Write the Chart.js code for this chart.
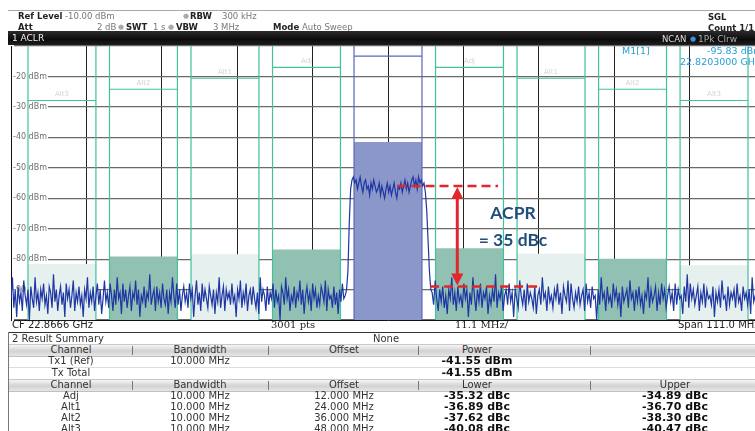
<!DOCTYPE html>
<html><head><meta charset="utf-8">
<script src="https://cdn.jsdelivr.net/npm/chart.js@4.4.1/dist/chart.umd.min.js"></script>
<style>
body{margin:0;width:755px;height:431px;overflow:hidden;background:#fff;position:relative;font-family:"DejaVu Sans",Verdana,sans-serif;color:#222;}
.t{position:absolute;white-space:nowrap;line-height:12px;height:12px;font-size:9px;}
.h{font-size:8.5px;}
.c{transform:translateX(-50%);}
.b{font-weight:bold;}
.g{color:#777;}
.hl{position:absolute;height:1px;}
.vl{position:absolute;width:1px;}
.hdr{position:absolute;left:9px;width:760px;height:11px;background:linear-gradient(#f6f6f6,#d2d2d2 55%,#e6e6e6);border-top:1px solid #c8c8c8;border-bottom:1px solid #c0c0c0;}
.sep{position:absolute;width:1px;height:9px;background:#777;}
.tb{font-size:10px;color:#333;}
.val{font-size:11px;font-weight:bold;color:#111;}
.mk{color:#2b9fd6;font-size:9.5px;}
</style></head><body>
<canvas id="c" width="780" height="431" style="position:absolute;left:0;top:0;width:780px;height:431px"></canvas>

<!-- header -->
<div class="hl" style="left:8px;top:10px;width:760px;background:#aaa"></div>
<div class="t h b" style="left:18px;top:10px">Ref Level</div>
<div class="t h g" style="left:65px;top:10px">-10.00 dBm</div>
<div class="t" style="left:183px;top:10px;color:#aaa;font-size:7px">●</div>
<div class="t h b" style="left:190px;top:10px">RBW</div>
<div class="t h g" style="left:222px;top:10px">300 kHz</div>
<div class="t h b" style="left:708px;top:11px">SGL</div>
<div class="t h b" style="left:18px;top:21px">Att</div>
<div class="t h g" style="left:97px;top:21px">2 dB</div>
<div class="t" style="left:118px;top:21px;color:#aaa;font-size:7px">●</div>
<div class="t h b" style="left:126px;top:21px">SWT</div>
<div class="t h g" style="left:153px;top:21px">1 s</div>
<div class="t" style="left:168px;top:21px;color:#aaa;font-size:7px">●</div>
<div class="t h b" style="left:176px;top:21px">VBW</div>
<div class="t h g" style="left:213px;top:21px">3 MHz</div>
<div class="t h b" style="left:273px;top:21px">Mode</div>
<div class="t h g" style="left:302px;top:21px">Auto Sweep</div>
<div class="t h b" style="left:708px;top:22px">Count 1/1</div>
<div style="position:absolute;left:8px;top:31px;width:770px;height:14px;background:linear-gradient(#2b2b2b,#0c0c0c 60%,#1e1e1e)"></div>
<div class="t" style="left:12px;top:32px;color:#eee">1 ACLR</div>
<div class="t h" style="left:662px;top:33px;color:#ddd">NCAN</div>
<div class="t" style="left:690px;top:33px;color:#3b8fe0;font-size:7px">●</div>
<div class="t" style="left:698px;top:33px;color:#aaa">1Pk Clrw</div>

<!-- marker -->
<div class="t mk" style="left:622px;top:45px">M1[1]</div>
<div class="t mk" style="left:707px;top:45px">-95.83 dBm</div>
<div class="t mk" style="left:680px;top:56px">22.8203000 GHz</div>

<!-- ACPR annotation text -->
<div class="t c" style="left:513px;top:202px;height:22px;line-height:22px;font:bold 17.5px Lato,sans-serif;color:#1f4d7c">ACPR</div>
<div class="t c" style="left:513px;top:229px;height:22px;line-height:22px;font:bold 17.5px Lato,sans-serif;color:#1f4d7c">= 35 dBc</div>

<!-- bottom bar -->
<div class="t" style="left:12px;top:319px;font-size:10px">CF 22.8666 GHz</div>
<div class="t" style="left:271px;top:319px;font-size:10px;font-family:'DejaVu Serif',serif">3001 pts</div>
<div class="t" style="left:455px;top:319px;font-size:10px;font-family:'DejaVu Serif',serif">11.1 MHz/</div>
<div class="t" style="left:678px;top:319px;font-size:10px">Span 111.0 MHz</div>
<div class="hl" style="left:8px;top:332px;width:770px;background:#333"></div>
<div class="vl" style="left:8px;top:332px;height:100px;background:#777"></div>

<div id="table"></div>

<script>
// ---------- data ----------
const yTickValues = [-100,-90,-80,-70,-60,-50,-40,-30,-20,-10];
const yTickLabels = ['','-90 dBm','-80 dBm','-70 dBm','-60 dBm','-50 dBm','-40 dBm','-30 dBm','-20 dBm',''];
const xGridMHz = [-55.5,-44.4,-33.3,-22.2,-11.1,0,11.1,22.2,33.3,44.4,55.5];

const channelNames   = ['Alt3','Alt2','Alt1','Adj','Tx1','Adj','Alt1','Alt2','Alt3'];
const channelOffsetMHz = [-48,-36,-24,-12,0,12,24,36,48];
const channelBwMHz   = [10,10,10,10,10,10,10,10,10];
const txPowerDbm = -41.55;
const lowerDbc = [-35.32,-36.89,-37.62,-40.08];   // Adj, Alt1, Alt2, Alt3
const upperDbc = [-34.89,-36.70,-38.30,-40.47];
const limitDbm = [-27.9,-24.2,-20.6,-17.0,-13.3,-17.0,-20.6,-24.2,-27.9];
const tableNames = ['Adj','Alt1','Alt2','Alt3'];
const tableOffsetMHz = [12,24,36,48];

// trace segments (dBm)
const noiseLowerSpan = [-55.5,-6.3];
const noiseLower = [
-93,-86,-96,-90,-99,-89,-94,-91,-97,-87,-92,-95,-90,-100,-89,-93,-96,-86,-94,-91,
-97,-90,-93,-88,-95,-92,-98,-89,-91,-96,-85,-94,-90,-97,-92,-89,-95,-91,-99,-88,
-93,-90,-96,-92,-87,-97,-91,-94,-89,-95,-92,-99,-90,-93,-86,-96,-91,-94,-89,-97,
-92,-88,-95,-90,-98,-93,-87,-94,-91,-96,-88,-92,-97,-90,-95,-86,-93,-91,-98,-88,
-94,-90,-96,-92,-89,-97,-91,-93,-87,-95,-90,-99,-92,-94,-89,-96,-91,-93,-85,-95,
-92,-90,-97,-89,-94,-91,-96,-88,-93,-95,-90,-98,-91,-94,-86,-92,-96,-88,-95,-90,
-97,-92,-89,-94,-91,-96,-88,-93,-90,-99,-92,-87,-95,-91,-97,-88,-94,-90,-93,-96,
-89,-92,-95,-90,-98,-91,-94,-86,-96,-92,-89,-97,-90,-93,-91,-95,-88,-94,-92,-99,
-90,-93,-87,-96,-91,-94,-88,-97,-92,-90,-95,-89,-93,-96,-91,-98,-86,-94,-90,-92,
-97,-89,-95,-91,-93,-88,-96,-90,-94,-92,-100,-89,-91,-95,-86,-93,-90,-97,-92,-94,
-89,-96,-91,-93,-87,-95,-90,-98,-92,-89,-94,-91,-97,-88,-93,-90,-96,-92,-95,-89,
-91,-94,-87,-97,-90,-93,-92,-96,-89,-95,-91,-98,-90,-94,-88,-93,-92];
const txBandSpan = [-6.1,6.3];
const txBand = [-90,-84,-68,-57,-54,-53,-55,-54,-57,-55,-53,-56,-58,-55,-54,-57,-56,-59,-55,-57,
-54,-56,-58,-57,-55,-59,-56,-58,-60,-57,-55,-58,-56,-59,-57,-55,-58,-60,-56,-57,
-55,-58,-56,-54,-57,-55,-58,-56,-54,-53,-56,-54,-57,-53,-55,-54,-56,-55,-58,-64,-74,-84,-90];
const noiseUpperSpan = [6.5,56.5];
const noiseUpper = [
-91,-95,-87,-93,-97,-90,-94,-89,-96,-92,-98,-90,-93,-86,-95,-91,-97,-89,-94,-92,
-96,-88,-93,-90,-99,-91,-95,-86,-92,-97,-90,-94,-88,-96,-91,-93,-89,-98,-92,-95,
-90,-94,-85,-96,-91,-93,-89,-97,-92,-90,-95,-88,-94,-91,-99,-90,-93,-96,-87,-92,
-95,-90,-97,-88,-94,-91,-93,-96,-89,-98,-92,-90,-95,-86,-93,-91,-97,-89,-94,-92,
-96,-90,-93,-88,-95,-91,-98,-89,-92,-94,-87,-97,-88,-93,-96,-91,-94,-89,-95,-92,
-90,-97,-88,-94,-91,-96,-89,-93,-92,-100,-90,-95,-86,-93,-91,-97,-89,-94,-92,-96,
-88,-93,-90,-95,-91,-99,-89,-94,-92,-90,-96,-87,-93,-91,-97,-90,-94,-89,-95,-92,
-98,-91,-93,-86,-96,-90,-94,-92,-89,-97,-91,-95,-88,-93,-90,-96,-92,-89,-94,-91,
-97,-88,-95,-90,-93,-92,-98,-89,-94,-85,-96,-88,-93,-90,-95,-92,-89,-97,-91,-94,
-88,-96,-90,-93,-92,-95,-89,-99,-91,-94,-90,-96,-87,-93,-92,-97,-89,-95,-91,-93,
-90,-96,-88,-94,-92,-97,-89,-93,-91,-95,-90,-98,-86,-94,-92,-96,-89,-93,-91,-95,
-90,-97,-88,-94,-92,-93];

// annotation values
const refLineDbm = -56;
const adjLineDbm = -89;
const refLineMHz = [1.4,16.2];
const adjLineMHz = [6.2,22.4];
const arrowMHz = 10.2;

// ---------- build ----------
function seg(span, vals){ const n = vals.length; return vals.map((v,i)=>({x: span[0] + (span[1]-span[0])*i/(n-1), y: v})); }
const trace = seg(noiseLowerSpan,noiseLower).concat(seg(txBandSpan,txBand), seg(noiseUpperSpan,noiseUpper));

const channelPower = channelOffsetMHz.map((o,i)=>{
  if (o === 0) return txPowerDbm;
  const k = Math.abs(o)/12 - 1;
  return txPowerDbm + (o < 0 ? lowerDbc[k] : upperDbc[k]);
});
const fillColor = ['#e5f0ef','#91c1b2','#e5f0ef','#91c1b2','#8c97c9','#91c1b2','#e5f0ef','#91c1b2','#e5f0ef'];

const datasets = [{
  label:'Trace', data: trace, borderColor:'#1f37a3', borderWidth:1.2, pointRadius:0, order:0, tension:0
}];
channelOffsetMHz.forEach((o,i)=>{
  const s = o - channelBwMHz[i]/2, e = o + channelBwMHz[i]/2;
  const isTx = o === 0;
  datasets.push({
    label: channelNames[i]+' limit',
    data:[{x:s,y:-10},{x:s,y:-100},{x:s,y:null},{x:s,y:limitDbm[i]},{x:e,y:limitDbm[i]},{x:e,y:null},{x:e,y:-10},{x:e,y:-100}],
    borderColor: isTx ? '#5b67ba' : '#42c19c', borderWidth: 1.2, pointRadius:0, order:1, spanGaps:false
  });
  datasets.push({
    label: channelNames[i]+' power',
    data:[{x:s,y:channelPower[i]},{x:e,y:channelPower[i]}],
    borderWidth:0, borderColor:'rgba(0,0,0,0)', backgroundColor: fillColor[i], fill:{value:-100}, pointRadius:0, order:2
  });
});

const limitLabelPlugin = {
  id:'limitLabels',
  beforeDatasetsDraw(chart){
    const {ctx, scales:{x,y}} = chart;
    ctx.save();
    ctx.fillStyle = '#d4d4d4'; ctx.font = '7px "DejaVu Sans"'; ctx.textAlign = 'center'; ctx.textBaseline = 'bottom';
    channelOffsetMHz.forEach((o,i)=>{ if (o !== 0) ctx.fillText(channelNames[i], x.getPixelForValue(o), y.getPixelForValue(limitDbm[i]) - 3); });
    ctx.restore();
  }
};

const acprPlugin = {
  id:'acpr',
  afterDatasetsDraw(chart){
    const {ctx, scales:{x,y}} = chart;
    ctx.save();
    ctx.strokeStyle = '#e3262b'; ctx.fillStyle = '#e3262b';
    ctx.lineWidth = 2.5; ctx.setLineDash([9,5]);
    const y1 = y.getPixelForValue(refLineDbm), y2 = y.getPixelForValue(adjLineDbm);
    ctx.beginPath(); ctx.moveTo(x.getPixelForValue(refLineMHz[0]), y1); ctx.lineTo(x.getPixelForValue(refLineMHz[1]), y1); ctx.stroke();
    ctx.beginPath(); ctx.moveTo(x.getPixelForValue(adjLineMHz[0]), y2); ctx.lineTo(x.getPixelForValue(adjLineMHz[1]), y2); ctx.stroke();
    ctx.setLineDash([]);
    const ax = x.getPixelForValue(arrowMHz);
    ctx.lineWidth = 3;
    ctx.beginPath(); ctx.moveTo(ax, y1+10); ctx.lineTo(ax, y2-10); ctx.stroke();
    ctx.beginPath(); ctx.moveTo(ax, y1+1); ctx.lineTo(ax-6, y1+13); ctx.lineTo(ax+6, y1+13); ctx.closePath(); ctx.fill();
    ctx.beginPath(); ctx.moveTo(ax, y2-1); ctx.lineTo(ax-6, y2-13); ctx.lineTo(ax+6, y2-13); ctx.closePath(); ctx.fill();
    ctx.restore();
  }
};

new Chart(document.getElementById('c'), {
  type:'line',
  data:{datasets},
  options:{
    responsive:false, animation:false, devicePixelRatio:1,
    layout:{padding:{left:7,top:46,right:15,bottom:111}},
    plugins:{legend:{display:false}, tooltip:{enabled:false}},
    scales:{
      x:{type:'linear', min:-55.5, max:55.5,
        afterBuildTicks: s => { s.ticks = xGridMHz.map(v=>({value:v})); },
        ticks:{display:false}, grid:{color:'#222', lineWidth:1, drawTicks:false}, border:{color:'#111', width:1}},
      y:{type:'linear', min:-100, max:-10,
        afterBuildTicks: s => { s.ticks = yTickValues.map(v=>({value:v})); },
        ticks:{mirror:true, padding:2, color:'#6f6f6f', font:{family:'DejaVu Sans', size:8},
          callback:(v,i)=> yTickLabels[i], showLabelBackdrop:true, backdropColor:'#fff', backdropPadding:{top:0,bottom:0,left:1,right:1}},
        grid:{color:'#6a6a6a', lineWidth:1.2, drawTicks:false}, border:{color:'#111', width:1}}
    }
  },
  plugins:[limitLabelPlugin, acprPlugin]
});

// ---------- table ----------
const T = document.getElementById('table');
function txt(cls, x, y, s, center){ const d = document.createElement('div'); d.className = 't '+cls+(center?' c':''); d.style.left = x+'px'; d.style.top = (y-6)+'px'; d.textContent = s; T.appendChild(d); }
function hdr(top){ const d=document.createElement('div'); d.className='hdr'; d.style.top=top+'px'; T.appendChild(d);
  [132,268,418,590].forEach(x=>{const s=document.createElement('div'); s.className='sep'; s.style.left=x+'px'; s.style.top=(top+2)+'px'; T.appendChild(s);}); }
const colX = {ch:71, bw:200, off:344, pw:477, up:675};
txt('tb', 12, 339, '2 Result Summary');
txt('tb', 386, 339, 'None', true);
hdr(344);
txt('tb', colX.ch, 350, 'Channel', true); txt('tb', colX.bw, 350, 'Bandwidth', true); txt('tb', colX.off, 350, 'Offset', true); txt('tb', colX.pw, 350, 'Power', true);
txt('tb', colX.ch, 361, 'Tx1 (Ref)', true); txt('tb', colX.bw, 361, channelBwMHz[4].toFixed(3)+' MHz', true); txt('val', colX.pw, 361, txPowerDbm.toFixed(2)+' dBm', true);
txt('tb', colX.ch, 373, 'Tx Total', true); txt('val', colX.pw, 373, txPowerDbm.toFixed(2)+' dBm', true);
hdr(379);
txt('tb', colX.ch, 385, 'Channel', true); txt('tb', colX.bw, 385, 'Bandwidth', true); txt('tb', colX.off, 385, 'Offset', true); txt('tb', colX.pw, 385, 'Lower', true); txt('tb', colX.up, 385, 'Upper', true);
tableNames.forEach((n,i)=>{
  const y = 396 + i*11;
  txt('tb', colX.ch, y, n, true);
  txt('tb', colX.bw, y, '10.000 MHz', true);
  txt('tb', colX.off, y, tableOffsetMHz[i].toFixed(3)+' MHz', true);
  txt('val', colX.pw, y, lowerDbc[i].toFixed(2)+' dBc', true);
  txt('val', colX.up, y, upperDbc[i].toFixed(2)+' dBc', true);
});
const l1=document.createElement('div'); l1.className='hl'; l1.style.cssText='left:9px;top:367px;width:760px;background:#ddd'; T.appendChild(l1);
</script>
</body></html>
